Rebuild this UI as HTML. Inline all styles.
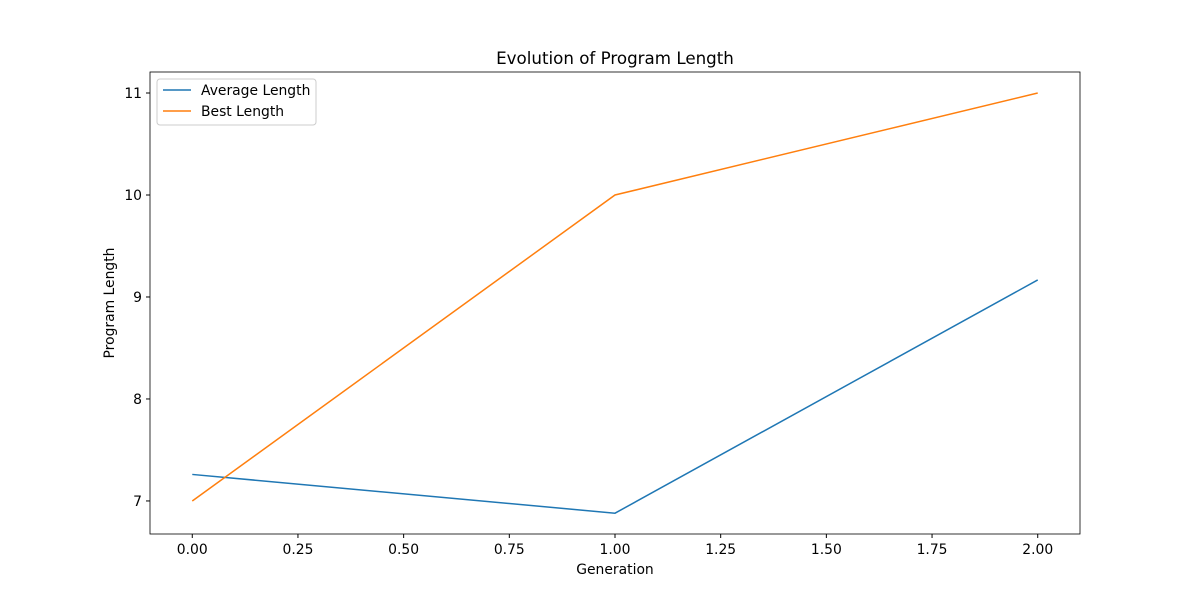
<!DOCTYPE html>
<html><head><meta charset="utf-8"><style>
body{margin:0;background:#fff;}
svg text{font-family:"DejaVu Sans","Liberation Sans",sans-serif;fill:#000;}
</style></head><body>
<svg id="chart" width="1200" height="600" xmlns="http://www.w3.org/2000/svg">
<rect width="1200" height="600" fill="#fff"/>
<text x="615" y="64" font-size="16.7" text-anchor="middle">Evolution of Program Length</text>
<g id="plot"></g>
<text x="615" y="574" font-size="13.9" text-anchor="middle">Generation</text>
<text x="114" y="303" font-size="13.9" text-anchor="middle" transform="rotate(-90 114 303)">Program Length</text>
</svg>
<script>
const generations=[0,1,2];
const avgLength=[7.26,6.88,9.167];
const bestLength=[7,10,11];
const xTicks=[0,0.25,0.5,0.75,1,1.25,1.5,1.75,2];
const xTickLabels=["0.00","0.25","0.50","0.75","1.00","1.25","1.50","1.75","2.00"];
const yTicks=[7,8,9,10,11];
const ns="http://www.w3.org/2000/svg";
const L=150,R=1080,T=72,B=534;
const xMin=-0.1,xMax=2.1;
const yMin=6.676,yMax=11.206;
const sx=v=>L+(v-xMin)/(xMax-xMin)*(R-L);
const sy=v=>B-(v-yMin)/(yMax-yMin)*(B-T);
const g=document.getElementById('plot');
function mk(t,a){const e=document.createElementNS(ns,t);for(const k in a)e.setAttribute(k,a[k]);g.appendChild(e);return e;}
xTicks.forEach((v,i)=>{
 const tk=mk('line',{x1:sx(v),x2:sx(v),y1:B,y2:B+4,stroke:'#000'});
 
 
 const t=mk('text',{x:sx(v),y:B+20,'font-size':13.9,'text-anchor':'middle'});t.textContent=xTickLabels[i];
 
 
});
yTicks.forEach(v=>{
 const tk=mk('line',{x1:L-4,x2:L,y1:sy(v),y2:sy(v),stroke:'#000'});
 
 
 const t=mk('text',{x:L-8,y:sy(v)+5,'font-size':13.9,'text-anchor':'end'});t.textContent=v;
 
 
});
function series(vals,color,name){
 const p=mk('polyline',{points:generations.map((x,i)=>sx(x)+','+sy(vals[i])).join(' '),fill:'none',stroke:color,'stroke-width':1.5});
 
 
}
series(avgLength,'#1f77b4','average-length-line');
series(bestLength,'#ff7f0e','best-length-line');
const fr=mk('rect',{x:L,y:T,width:R-L,height:B-T,fill:'none',stroke:'#000','stroke-width':0.8});


const lg=mk('rect',{x:157,y:79,width:159,height:46,fill:'#fff',stroke:'#ccc',rx:3});


[['Average Length','#1f77b4',90],['Best Length','#ff7f0e',111]].forEach(([n,c,y])=>{
 const l=mk('line',{x1:163,x2:191,y1:y,y2:y,stroke:c,'stroke-width':1.5});
 
 
 const t=mk('text',{x:201,y:y+5,'font-size':13.9});t.textContent=n;
 
 
});
</script>
</body></html>
